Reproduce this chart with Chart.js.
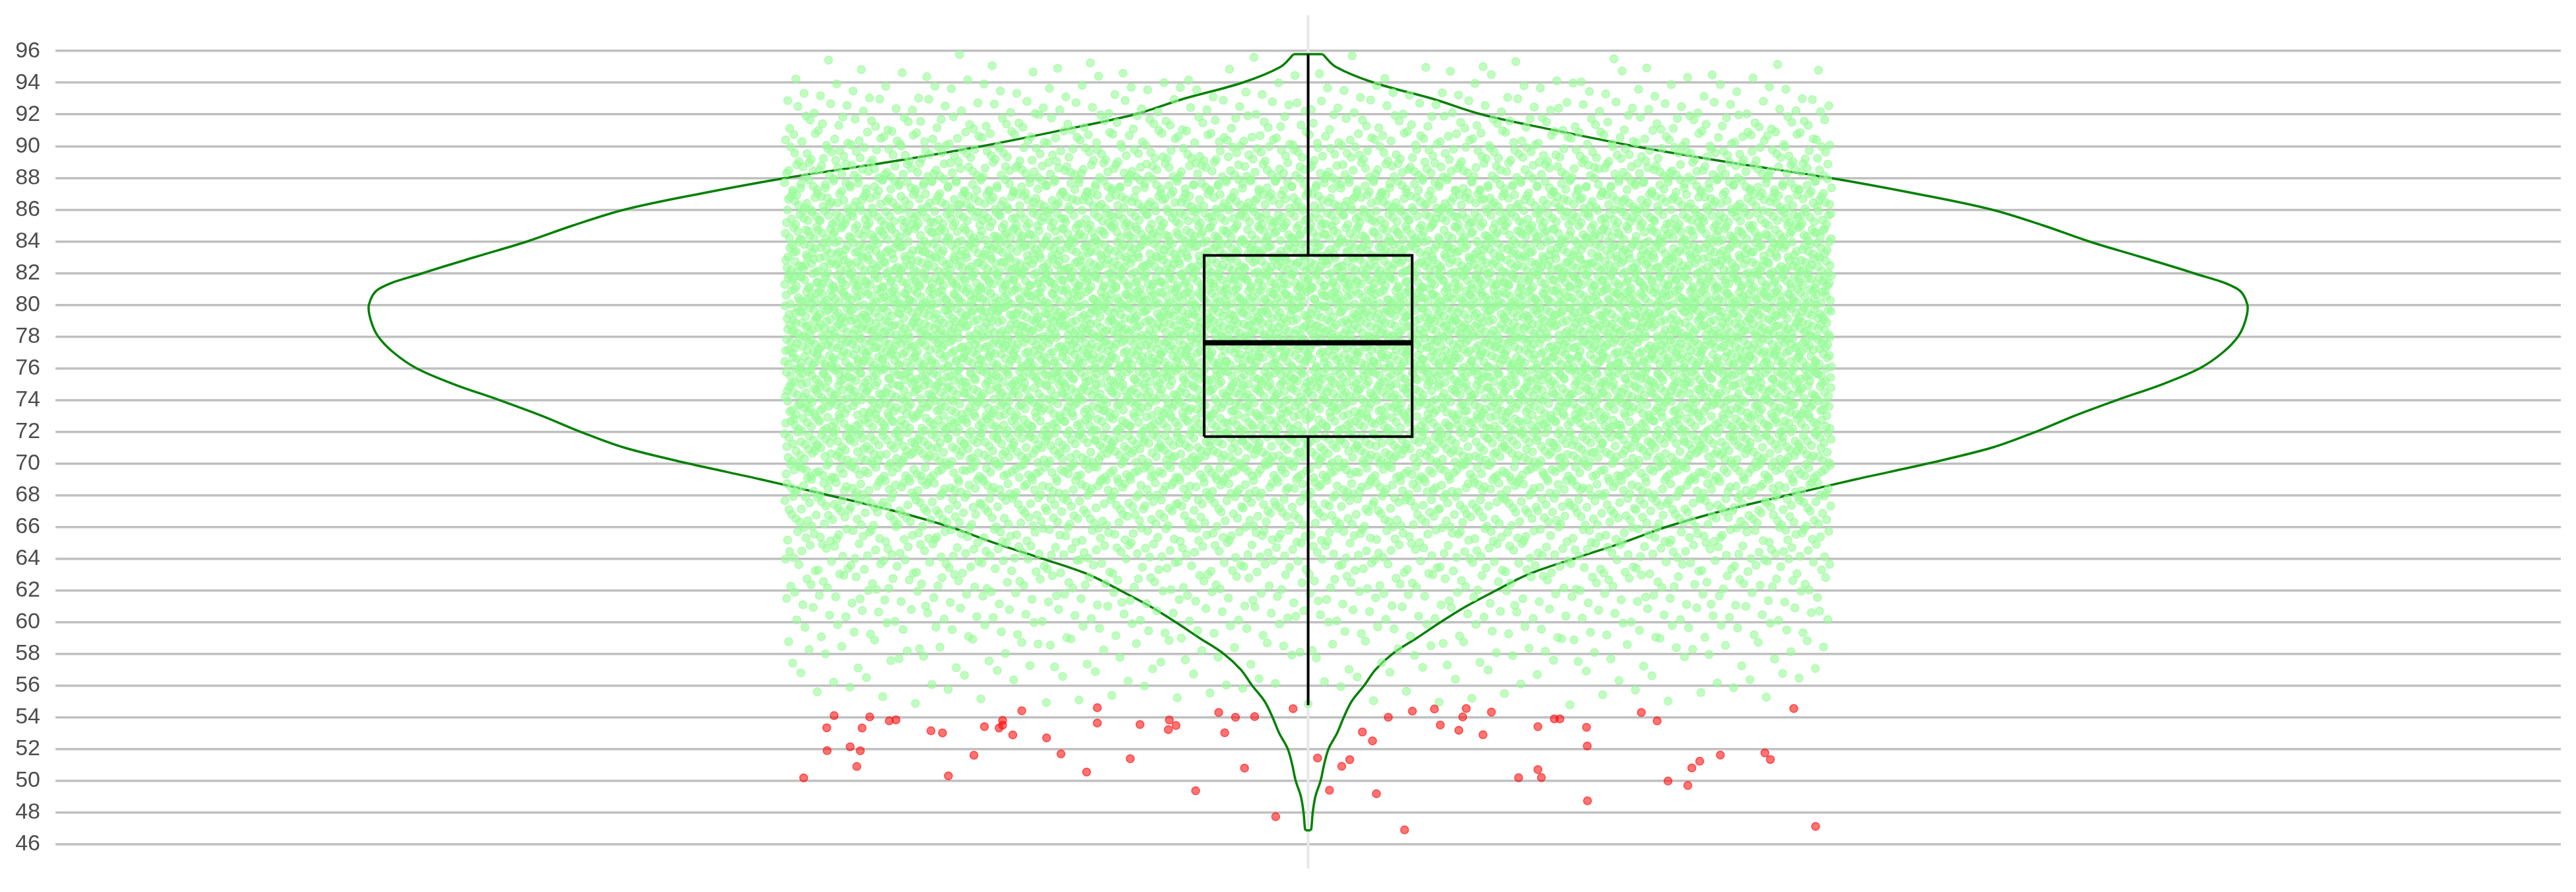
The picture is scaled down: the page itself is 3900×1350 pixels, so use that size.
<!DOCTYPE html>
<html>
<head>
<meta charset="utf-8">
<script src="https://cdn.jsdelivr.net/npm/chart.js@4.4.1/dist/chart.umd.min.js"></script>
<style>
html,body{margin:0;padding:0;background:#fff;}
#wrap{width:3900px;height:1350px;}
</style>
</head>
<body>
<div id="wrap"><canvas id="c" width="3900" height="1350"></canvas></div>
<script>
// ---- tick labels / axis range ----
const yTickValues = [46,48,50,52,54,56,58,60,62,64,66,68,70,72,74,76,78,80,82,84,86,88,90,92,94,96];
const yAxisMin = 44.43;
const yAxisMax = 98.26;

// ---- box plot statistics ----
const boxQ1 = 71.69;
const boxMedian = 77.6;
const boxQ3 = 83.11;
const whiskerLow = 54.75;
const whiskerHigh = 95.8;

// ---- violin (kernel density, half-width in category units) ----
const violinY = [46.86,47,48,49,50,51,52,53,54,55,56,57,58,59,60,61,62,63,64,65,66,67,68,69,70,71,72,73,74,75,76,77,78,79,80,81,82,83,84,85,86,87,88,89,90,91,92,93,94,95,95.8];
const violinDensity = [0.0021,0.0026,0.0037,0.0058,0.0100,0.0127,0.0163,0.0232,0.0285,0.0348,0.0448,0.0538,0.0675,0.0870,0.1060,0.1265,0.1503,0.1756,0.2125,0.2510,0.2863,0.3306,0.3833,0.4376,0.4951,0.5463,0.5811,0.6117,0.6459,0.6823,0.7119,0.7303,0.7424,0.7482,0.7498,0.7419,0.7066,0.6654,0.6232,0.5869,0.5457,0.4856,0.4166,0.3348,0.2605,0.1972,0.1387,0.0990,0.0527,0.0221,0.0116];

// ---- non-outlier observations: counts per value bin (read from the cloud) ----
const greenBinLow  = [54.75,55,56,57,58,59,60,61,62,63,64,65,66,67,68,69,70,71,72,73,74,75,76,77,78,79,80,81,82,83,84,85,86,87,88,89,90,91,92,93,94,95];
const greenBinHigh = [55,56,57,58,59,60,61,62,63,64,65,66,67,68,69,70,71,72,73,74,75,76,77,78,79,80,81,82,83,84,85,86,87,88,89,90,91,92,93,94,95,95.8];
const greenCounts  = [5,22,28,35,44,55,66,79,93,110,132,153,175,203,233,265,296,321,338,355,376,396,410,418,424,426,425,413,395,370,345,323,293,256,213,170,132,98,70,48,26,10];
const jitterHalfWidth = 0.418;

// ---- outliers (value, horizontal jitter) ----
const outlierY = [50.17,53.33,51.89,54.10,52.13,50.89,51.88,53.31,54.01,53.76,53.83,53.14,53.00,50.29,51.60,53.40,53.31,53.79,53.49,52.88,54.40,52.69,51.68,50.53,54.60,53.63,51.38,53.53,53.21,53.82,53.47,49.36,54.29,53.01,53.99,50.78,54.03,47.72,54.53,
  51.42,49.39,50.90,51.32,53.06,52.50,49.17,53.99,46.89,54.38,54.51,53.50,53.17,54.01,54.54,52.89,54.32,50.18,53.40,50.69,50.19,53.89,53.89,53.36,52.18,48.72,54.29,53.76,49.97,49.69,50.79,51.22,51.61,51.74,51.33,54.54,47.11];
const outlierJitter = [-0.4027,-0.3843,-0.3840,-0.3784,-0.3656,-0.3603,-0.3575,-0.3561,-0.3500,-0.3344,-0.3290,-0.3011,-0.2919,-0.2872,-0.2668,-0.2584,-0.2467,-0.2439,-0.2439,-0.2358,-0.2286,-0.2088,-0.1973,-0.1769,-0.1683,-0.1683,-0.1420,-0.1342,-0.1116,-0.1108,-0.1055,-0.0898,-0.0714,-0.0666,-0.0580,-0.0508,-0.0427,-0.0259,-0.0120,
  0.0075,0.0170,0.0268,0.0332,0.0433,0.0514,0.0545,0.0640,0.0770,0.0832,0.1008,0.1055,0.1203,0.1234,0.1262,0.1396,0.1463,0.1680,0.1834,0.1834,0.1862,0.1965,0.2010,0.2222,0.2228,0.2230,0.2660,0.2786,0.2873,0.3031,0.3063,0.3126,0.3291,0.3646,0.3690,0.3877,0.4051];

const boxHalfWidth = 0.083;

// ---- build datasets ----
// spread each bin's observations over the bin with a Halton (2,3) quasi-random sequence
function halton(i, b) { let f = 1, r = 0; while (i > 0) { f /= b; r += f * (i % b); i = Math.floor(i / b); } return r; }
const greenPts = [];
let idx = 0;
greenCounts.forEach((n, b) => {
  const lo = greenBinLow[b], hi = greenBinHigh[b];
  for (let i = 0; i < n; i++) {
    idx++;
    greenPts.push({ x: -jitterHalfWidth + 2 * jitterHalfWidth * halton(idx, 2), y: lo + (hi - lo) * halton(idx, 3) });
  }
});
const redPts = outlierY.map((y, i) => ({ x: outlierJitter[i], y }));

const leftSide = violinY.map((y, i) => ({ x: -violinDensity[i], y }));
const rightSide = violinY.map((y, i) => ({ x: violinDensity[i], y }));
const last = violinY.length - 1;

const lineDS = (data, color, width, order, tension) => ({
  type: 'scatter', data, showLine: true, borderColor: color, borderWidth: width,
  pointRadius: 0, pointHoverRadius: 0, fill: false, tension: tension || 0, order,
  borderCapStyle: 'butt', borderJoinStyle: 'miter'
});

const datasets = [
  // box
  lineDS([{x:-boxHalfWidth,y:boxQ1},{x:-boxHalfWidth,y:boxQ3},{x:boxHalfWidth,y:boxQ3},{x:boxHalfWidth,y:boxQ1},{x:-boxHalfWidth,y:boxQ1}], '#000', 4, 0),
  lineDS([{x:-boxHalfWidth,y:boxMedian},{x:boxHalfWidth,y:boxMedian}], '#000', 8, 0),
  lineDS([{x:0,y:boxQ3},{x:0,y:whiskerHigh}], '#000', 4, 0),
  lineDS([{x:0,y:boxQ1},{x:0,y:whiskerLow}], '#000', 4, 0),
  // outliers
  { type:'scatter', data: redPts, pointRadius: 6, pointBorderWidth: 1.5,
    pointBackgroundColor: 'rgba(255,0,0,0.55)', pointBorderColor: 'rgba(255,0,0,0.6)', order: 1 },
  // observations
  { type:'scatter', data: greenPts, pointRadius: 6, pointBorderWidth: 1.5,
    pointBackgroundColor: 'rgba(152,251,152,0.6)', pointBorderColor: 'rgba(152,251,152,0.65)', order: 2 },
  // violin outline
  lineDS(leftSide, '#008000', 3.5, 3, 0.35),
  lineDS(rightSide, '#008000', 3.5, 3, 0.35),
  lineDS([leftSide[last], rightSide[last]], '#008000', 3.5, 3),
  lineDS([leftSide[0], rightSide[0]], '#008000', 3.5, 3),
  // category centre line
  lineDS([{x:0,y:yAxisMin},{x:0,y:yAxisMax}], '#e8e8e8', 4, 4)
];

new Chart(document.getElementById('c'), {
  type: 'scatter',
  data: { datasets },
  options: {
    responsive: false,
    devicePixelRatio: 1,
    animation: false,
    events: [],
    layout: { padding: { top: 23, bottom: 35, left: 0, right: 23 } },
    plugins: { legend: { display: false }, tooltip: { enabled: false } },
    scales: {
      x: { type: 'linear', min: -1, max: 1, display: false },
      y: {
        type: 'linear', min: yAxisMin, max: yAxisMax,
        afterBuildTicks: (s) => { s.ticks = yTickValues.map(v => ({ value: v })); },
        afterFit: (s) => { s.width = 84; s.paddingTop = 0; s.paddingBottom = 0; },
        border: { display: false },
        grid: { color: '#c0c0c0', lineWidth: 3.5, drawTicks: false },
        ticks: {
          padding: 23, color: '#4d4d4d',
          font: { family: "'Liberation Sans', Arial, sans-serif", size: 34 },
          callback: (v) => String(v)
        }
      }
    }
  }
});
</script>
</body>
</html>
